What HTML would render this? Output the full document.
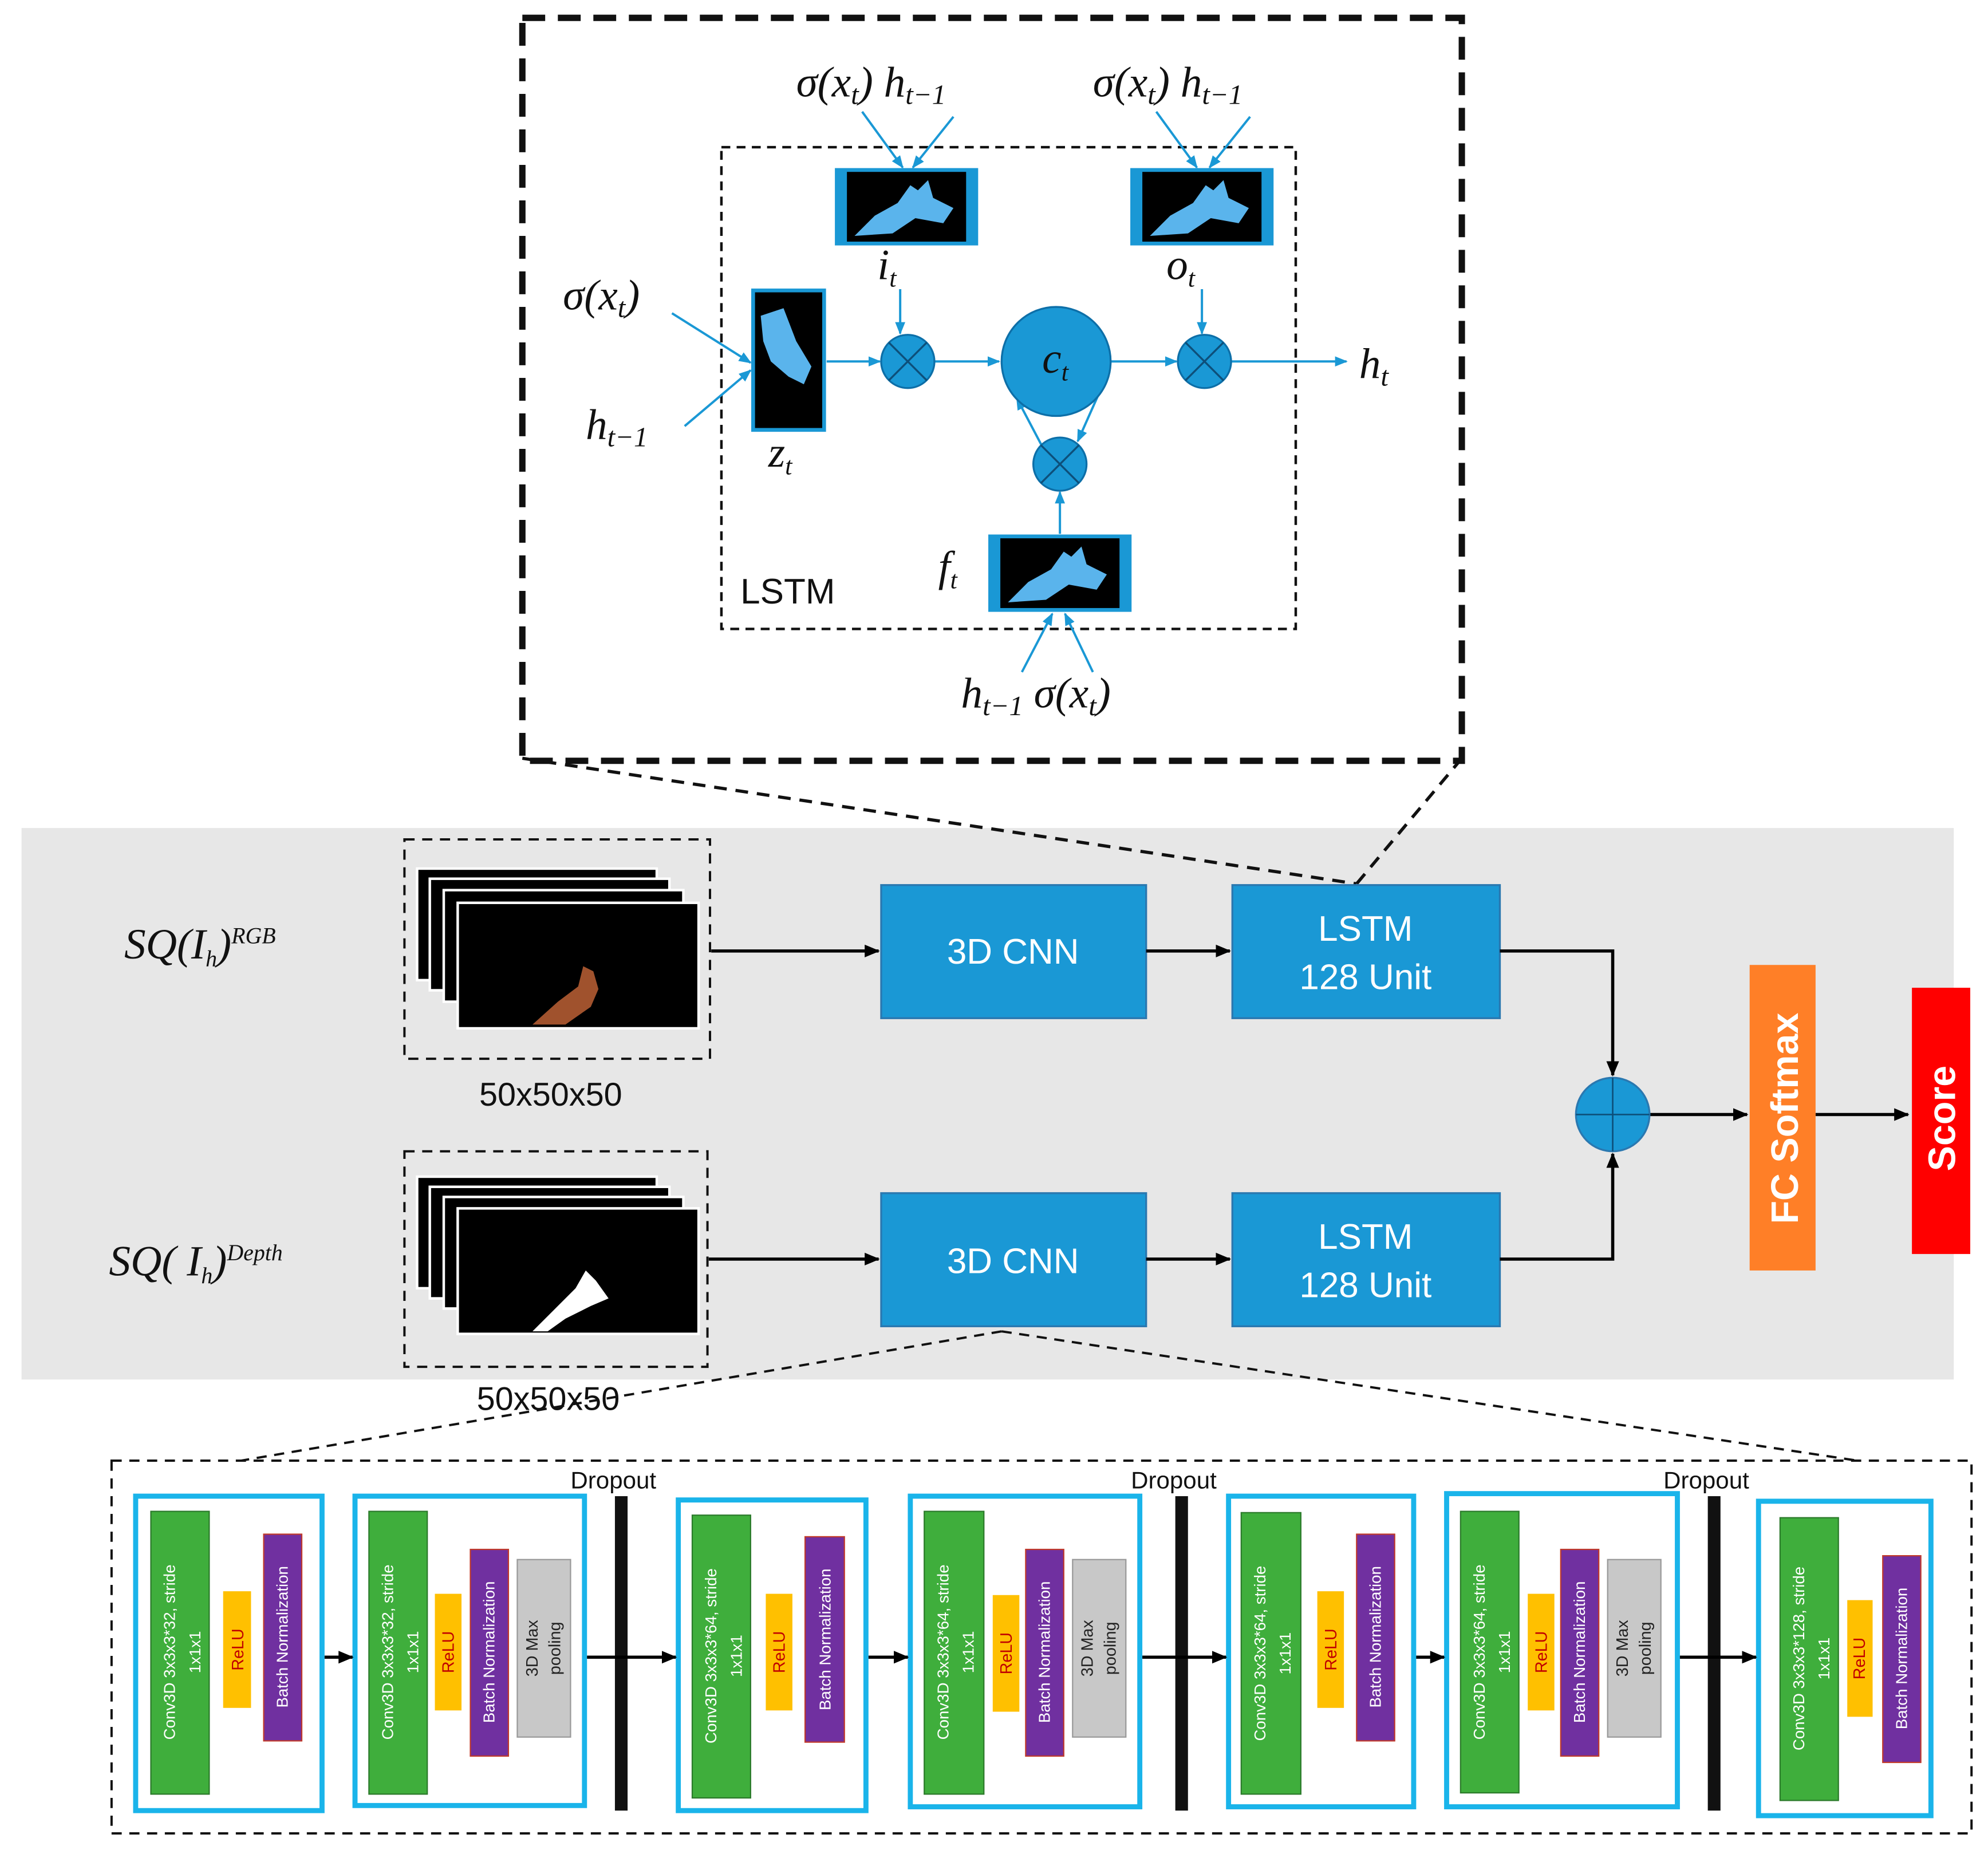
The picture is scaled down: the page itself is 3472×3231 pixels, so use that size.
<!DOCTYPE html>
<html><head><meta charset="utf-8"><style>
html,body{margin:0;padding:0;background:#fff;}
svg{display:block}
.m{font-family:"Liberation Serif",serif;font-style:italic;font-size:34px;fill:#111}
.s{font-family:"Liberation Sans",sans-serif}
.w{font-family:"Liberation Sans",sans-serif;fill:#fff;font-size:12.5px}
</style></head><body>
<svg width="3472" height="3231" viewBox="0 0 1568 1459" xmlns="http://www.w3.org/2000/svg">
<defs>
<marker id="ab" markerWidth="10" markerHeight="10" refX="9" refY="5" orient="auto" markerUnits="userSpaceOnUse"><path d="M0,1 L10,5 L0,9 z" fill="#1a98d5"/></marker>
<marker id="ak" markerWidth="12" markerHeight="12" refX="11" refY="6" orient="auto" markerUnits="userSpaceOnUse"><path d="M0,1 L12,6 L0,11 z" fill="#000"/></marker>
<g id="img"><rect x="0" y="0" width="110" height="58" fill="#000" stroke="#1a98d5" stroke-width="3"/><rect x="0" y="0" width="8" height="58" fill="#1a98d5"/><rect x="102" y="0" width="8" height="58" fill="#1a98d5"/><path d="M14,52 L30,36 L48,26 L58,12 L64,16 L72,8 L76,22 L92,30 L84,42 L62,38 L44,50 Z" fill="#5ab4ec"/></g>
</defs>
<rect width="1568" height="1459" fill="#fff"/>
<!-- Top zoom box -->
<rect x="412" y="14" width="741" height="586" fill="none" stroke="#111" stroke-width="5" stroke-dasharray="18,10"/>
<rect x="569" y="116" width="453" height="380" fill="none" stroke="#111" stroke-width="2" stroke-dasharray="7,5"/>
<use href="#img" x="660" y="134"/>
<use href="#img" x="893" y="134"/>
<use href="#img" x="781" y="423"/>
<g transform="translate(594,229)"><rect width="56" height="110" fill="#000" stroke="#1a98d5" stroke-width="3"/><path d="M6,20 L24,14 L34,40 L46,60 L40,74 L28,68 L14,56 L8,40 Z" fill="#5ab4ec"/></g>
<g stroke="#1a98d5" stroke-width="1.8" fill="none">
<line x1="680" y1="88" x2="712" y2="132" marker-end="url(#ab)"/><line x1="752" y1="92" x2="720" y2="132" marker-end="url(#ab)"/>
<line x1="912" y1="88" x2="944" y2="132" marker-end="url(#ab)"/><line x1="986" y1="92" x2="954" y2="132" marker-end="url(#ab)"/>
<line x1="530" y1="247" x2="592" y2="286" marker-end="url(#ab)"/><line x1="540" y1="336" x2="592" y2="292" marker-end="url(#ab)"/>
<line x1="806" y1="530" x2="830" y2="484" marker-end="url(#ab)"/><line x1="862" y1="530" x2="840" y2="484" marker-end="url(#ab)"/>
<line x1="652" y1="285" x2="694" y2="285" marker-end="url(#ab)"/>
<line x1="736" y1="285" x2="788" y2="285" marker-end="url(#ab)"/>
<line x1="876" y1="285" x2="928" y2="285" marker-end="url(#ab)"/>
<line x1="970" y1="285" x2="1062" y2="285" marker-end="url(#ab)"/>
<line x1="710" y1="228" x2="710" y2="263" marker-end="url(#ab)"/>
<line x1="948" y1="228" x2="948" y2="263" marker-end="url(#ab)"/>
<line x1="836" y1="421" x2="836" y2="388" marker-end="url(#ab)"/>
<line x1="822" y1="352" x2="802" y2="314" marker-end="url(#ab)"/>
<line x1="866" y1="312" x2="850" y2="348" marker-end="url(#ab)"/>
</g>
<g fill="#1a98d5" stroke="#0d6fa8" stroke-width="1.5">
<circle cx="716" cy="285" r="21"/><circle cx="950" cy="285" r="21"/><circle cx="836" cy="366" r="21"/><circle cx="833" cy="285" r="43"/>
</g>
<g stroke="#0d4f7a" stroke-width="1.5"><path d="M701,270 L731,300 M731,270 L701,300 M935,270 L965,300 M965,270 L935,300 M821,351 L851,381 M851,351 L821,381"/></g>
<text x="822" y="294" class="m" font-size="30">c<tspan font-size="20" dy="6">t</tspan></text>
<text x="628" y="76" class="m">σ(x<tspan font-size="22" dy="6">t</tspan><tspan dy="-6">)</tspan> h<tspan font-size="22" dy="6">t−1</tspan></text>
<text x="862" y="76" class="m">σ(x<tspan font-size="22" dy="6">t</tspan><tspan dy="-6">)</tspan> h<tspan font-size="22" dy="6">t−1</tspan></text>
<text x="444" y="244" class="m">σ(x<tspan font-size="22" dy="6">t</tspan><tspan dy="-6">)</tspan></text>
<text x="462" y="346" class="m">h<tspan font-size="22" dy="6">t−1</tspan></text>
<text x="758" y="558" class="m">h<tspan font-size="22" dy="6">t−1</tspan><tspan dy="-6"> σ(x</tspan><tspan font-size="22" dy="6">t</tspan><tspan dy="-6">)</tspan></text>
<text x="692" y="220" class="m" font-size="30">i<tspan font-size="20" dy="6">t</tspan></text>
<text x="920" y="220" class="m" font-size="30">o<tspan font-size="20" dy="6">t</tspan></text>
<text x="606" y="368" class="m" font-size="30">z<tspan font-size="20" dy="6">t</tspan></text>
<text x="740" y="458" class="m" font-size="30">f<tspan font-size="20" dy="6">t</tspan></text>
<text x="1072" y="298" class="m">h<tspan font-size="22" dy="6">t</tspan></text>
<text x="584" y="476" class="s" font-size="28" fill="#111">LSTM</text>
<!-- gray panel -->
<rect x="17" y="653" width="1524" height="435" fill="#e7e7e7"/>
<g stroke="#111" stroke-width="2.5" stroke-dasharray="10,7" fill="none">
<line x1="412" y1="598" x2="1070" y2="697"/><line x1="1153" y1="598" x2="1070" y2="697"/>
</g>
<g stroke="#111" stroke-width="1.8" stroke-dasharray="8,6" fill="none">
<line x1="790" y1="1050" x2="190" y2="1152"/><line x1="790" y1="1050" x2="1465" y2="1152"/>
<rect x="319" y="662" width="241" height="173"/><rect x="319" y="908" width="239" height="170"/>
<rect x="88" y="1152" width="1467" height="294"/>
</g>
<g stroke="#fff" stroke-width="2">
<rect x="329" y="685" width="189" height="88" fill="#000"/><rect x="339" y="693" width="189" height="88" fill="#000"/><rect x="350" y="702" width="189" height="88" fill="#000"/><rect x="361" y="712" width="190" height="99" fill="#000"/>
<rect x="329" y="928" width="189" height="88" fill="#000"/><rect x="339" y="936" width="189" height="88" fill="#000"/><rect x="350" y="944" width="189" height="88" fill="#000"/><rect x="361" y="953" width="190" height="99" fill="#000"/>
</g>
<path d="M420,808 L440,790 L456,778 L460,762 L468,766 L472,780 L466,794 L446,808 Z" fill="#a0522d"/>
<path d="M420,1050 L440,1030 L454,1016 L462,1002 L470,1010 L480,1024 L466,1030 L446,1040 L432,1050 Z" fill="#fff"/>
<text x="378" y="872" class="s" font-size="26" fill="#111">50x50x50</text>
<text x="376" y="1112" class="s" font-size="26" fill="#111">50x50x50</text>
<text x="98" y="756" class="m" font-size="28">SQ(I<tspan font-size="18" dy="6">h</tspan><tspan dy="-6">)</tspan><tspan font-size="18" dy="-12">RGB</tspan></text>
<text x="86" y="1006" class="m" font-size="28">SQ( I<tspan font-size="18" dy="6">h</tspan><tspan dy="-6">)</tspan><tspan font-size="18" dy="-12">Depth</tspan></text>
<g fill="#1a98d5" stroke="#2a78b0" stroke-width="1.5">
<rect x="695" y="698" width="209" height="105"/><rect x="695" y="941" width="209" height="105"/>
<rect x="972" y="698" width="211" height="105"/><rect x="972" y="941" width="211" height="105"/>
</g>
<g class="s" font-size="28" fill="#fff" text-anchor="middle">
<text x="799" y="760">3D CNN</text><text x="799" y="1004">3D CNN</text>
<text x="1077" y="742">LSTM</text><text x="1077" y="780">128 Unit</text>
<text x="1077" y="985">LSTM</text><text x="1077" y="1023">128 Unit</text>
</g>
<g stroke="#000" stroke-width="2.5" fill="none">
<line x1="561" y1="750" x2="693" y2="750" marker-end="url(#ak)"/>
<line x1="559" y1="993" x2="693" y2="993" marker-end="url(#ak)"/>
<line x1="904" y1="750" x2="970" y2="750" marker-end="url(#ak)"/>
<line x1="904" y1="993" x2="970" y2="993" marker-end="url(#ak)"/>
<polyline points="1183,750 1272,750 1272,848" marker-end="url(#ak)"/>
<polyline points="1183,993 1272,993 1272,910" marker-end="url(#ak)"/>
<line x1="1301" y1="879" x2="1378" y2="879" marker-end="url(#ak)"/>
<line x1="1432" y1="879" x2="1505" y2="879" marker-end="url(#ak)"/>
</g>
<circle cx="1272" cy="879" r="29" fill="#1a98d5" stroke="#2a78b0" stroke-width="1.5"/>
<path d="M1243,879 H1301 M1272,850 V908" stroke="#0d4f7a" stroke-width="1.2"/>
<rect x="1380" y="761" width="52" height="241" fill="#ff7f27"/>
<rect x="1508" y="779" width="46" height="210" fill="#ff0000"/>
<text transform="translate(1418,882) rotate(-90)" class="s" font-size="30" font-weight="bold" fill="#fff" text-anchor="middle">FC Softmax</text>
<text transform="translate(1542,882) rotate(-90)" class="s" font-size="30" font-weight="bold" fill="#fff" text-anchor="middle">Score</text>
<!-- bottom blocks -->
<g class="s" font-size="19" fill="#111"><text x="450" y="1174">Dropout</text><text x="892" y="1174">Dropout</text><text x="1312" y="1174">Dropout</text></g>
<g fill="#111"><rect x="485" y="1180" width="10" height="248"/><rect x="927" y="1180" width="10" height="248"/><rect x="1347" y="1180" width="10" height="248"/></g>
<g fill="none" stroke="#1ab4ea" stroke-width="4">
<rect x="107" y="1180" width="147" height="248"/><rect x="280" y="1180" width="181" height="244"/><rect x="535" y="1183" width="148" height="245"/><rect x="718" y="1180" width="181" height="245"/><rect x="969" y="1180" width="146" height="245"/><rect x="1141" y="1178" width="182" height="247"/><rect x="1387" y="1184" width="136" height="248"/>
</g>
<g fill="#3fae3c" stroke="#2b7a2a"><rect x="119" y="1192" width="46" height="223"/><rect x="291" y="1192" width="46" height="223"/><rect x="546" y="1195" width="46" height="223"/><rect x="729" y="1192" width="47" height="223"/><rect x="979" y="1193" width="47" height="222"/><rect x="1152" y="1192" width="46" height="222"/><rect x="1404" y="1197" width="46" height="223"/></g>
<g fill="#ffc000"><rect x="176" y="1255" width="22" height="92"/><rect x="343" y="1257" width="21" height="92"/><rect x="604" y="1257" width="21" height="92"/><rect x="783" y="1258" width="21" height="92"/><rect x="1039" y="1255" width="21" height="92"/><rect x="1205" y="1257" width="21" height="92"/><rect x="1457" y="1262" width="20" height="92"/></g>
<g fill="#7030a0" stroke="#c0392b"><rect x="208" y="1210" width="30" height="163"/><rect x="371" y="1222" width="30" height="163"/><rect x="635" y="1212" width="31" height="162"/><rect x="809" y="1222" width="30" height="163"/><rect x="1070" y="1210" width="30" height="163"/><rect x="1231" y="1222" width="30" height="163"/><rect x="1485" y="1227" width="30" height="163"/></g>
<g fill="#c8c8c8" stroke="#999"><rect x="408" y="1230" width="42" height="140"/><rect x="846" y="1230" width="42" height="140"/><rect x="1268" y="1230" width="42" height="140"/></g>
<g class="w">
<text transform="translate(138,1303) rotate(-90)" text-anchor="middle">Conv3D 3x3x3*32, stride</text><text transform="translate(158,1303) rotate(-90)" text-anchor="middle">1x1x1</text>
<text transform="translate(310,1303) rotate(-90)" text-anchor="middle">Conv3D 3x3x3*32, stride</text><text transform="translate(330,1303) rotate(-90)" text-anchor="middle">1x1x1</text>
<text transform="translate(565,1306) rotate(-90)" text-anchor="middle">Conv3D 3x3x3*64, stride</text><text transform="translate(585,1306) rotate(-90)" text-anchor="middle">1x1x1</text>
<text transform="translate(748,1303) rotate(-90)" text-anchor="middle">Conv3D 3x3x3*64, stride</text><text transform="translate(768,1303) rotate(-90)" text-anchor="middle">1x1x1</text>
<text transform="translate(998,1304) rotate(-90)" text-anchor="middle">Conv3D 3x3x3*64, stride</text><text transform="translate(1018,1304) rotate(-90)" text-anchor="middle">1x1x1</text>
<text transform="translate(1171,1303) rotate(-90)" text-anchor="middle">Conv3D 3x3x3*64, stride</text><text transform="translate(1191,1303) rotate(-90)" text-anchor="middle">1x1x1</text>
<text transform="translate(1423,1308) rotate(-90)" text-anchor="middle">Conv3D 3x3x3*128, stride</text><text transform="translate(1443,1308) rotate(-90)" text-anchor="middle">1x1x1</text>
<text transform="translate(227,1291) rotate(-90)" text-anchor="middle">Batch Normalization</text>
<text transform="translate(390,1303) rotate(-90)" text-anchor="middle">Batch Normalization</text>
<text transform="translate(655,1293) rotate(-90)" text-anchor="middle">Batch Normalization</text>
<text transform="translate(828,1303) rotate(-90)" text-anchor="middle">Batch Normalization</text>
<text transform="translate(1089,1291) rotate(-90)" text-anchor="middle">Batch Normalization</text>
<text transform="translate(1250,1303) rotate(-90)" text-anchor="middle">Batch Normalization</text>
<text transform="translate(1504,1308) rotate(-90)" text-anchor="middle">Batch Normalization</text>
</g>
<g class="s" font-size="13" fill="#c00000" text-anchor="middle">
<text transform="translate(192,1301) rotate(-90)">ReLU</text><text transform="translate(358,1303) rotate(-90)">ReLU</text><text transform="translate(619,1303) rotate(-90)">ReLU</text><text transform="translate(798,1304) rotate(-90)">ReLU</text><text transform="translate(1054,1301) rotate(-90)">ReLU</text><text transform="translate(1220,1303) rotate(-90)">ReLU</text><text transform="translate(1471,1308) rotate(-90)">ReLU</text>
</g>
<g class="s" font-size="13" fill="#222" text-anchor="middle">
<text transform="translate(424,1300) rotate(-90)">3D Max</text><text transform="translate(442,1300) rotate(-90)">pooling</text>
<text transform="translate(862,1300) rotate(-90)">3D Max</text><text transform="translate(880,1300) rotate(-90)">pooling</text>
<text transform="translate(1284,1300) rotate(-90)">3D Max</text><text transform="translate(1302,1300) rotate(-90)">pooling</text>
</g>
<g stroke="#000" stroke-width="2.5">
<line x1="256" y1="1307" x2="278" y2="1307" marker-end="url(#ak)"/>
<line x1="463" y1="1307" x2="533" y2="1307" marker-end="url(#ak)"/>
<line x1="685" y1="1307" x2="716" y2="1307" marker-end="url(#ak)"/>
<line x1="901" y1="1307" x2="967" y2="1307" marker-end="url(#ak)"/>
<line x1="1117" y1="1307" x2="1139" y2="1307" marker-end="url(#ak)"/>
<line x1="1325" y1="1307" x2="1385" y2="1307" marker-end="url(#ak)"/>
</g>
</svg>
</body></html>
